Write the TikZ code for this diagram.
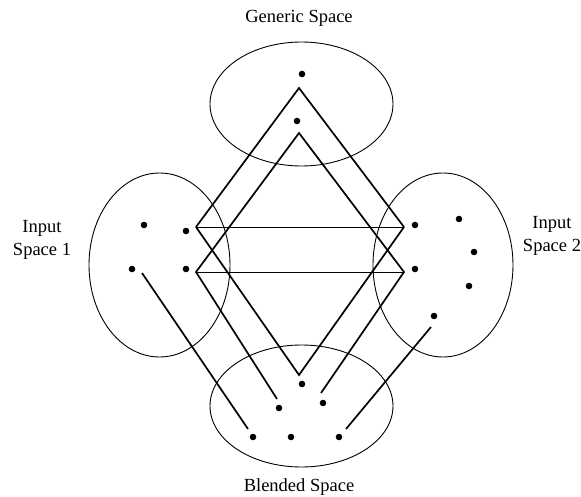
\documentclass[tikz,border=0pt]{standalone}
\usepackage{fontspec}
\setmainfont{Liberation Serif}
\begin{document}
\begin{tikzpicture}[x=1pt,y=-1pt,
  space/.style={draw,line width=0.9pt},
  dot/.style={circle,fill,inner sep=0pt,minimum size=6.6pt},
  bar/.style={line width=1.7pt},
  link/.style={line width=0.9pt},
  lbl/.style={font=\fontsize{18.5}{23}\selectfont,align=center}]
\useasboundingbox (0,0) rectangle (581,497);
% spaces
\draw[space] (301.5,104) ellipse [x radius=91.5, y radius=62];
\draw[space] (159.5,265) ellipse [x radius=70.5, y radius=92];
\draw[space] (443,265) ellipse [x radius=70, y radius=92];
\draw[space] (301.5,406) ellipse [x radius=91.5, y radius=61];
% labels
\node[lbl] (gen) at (299,18) {Generic Space};
\node[lbl] (in1) at (42,240) {Input\\Space 1};
\node[lbl] (in2) at (552,236) {Input\\Space 2};
\node[lbl] (bl) at (299,487) {Blended Space};
% dots
\node[dot] (g1) at (302,74) {};
\node[dot] (g2) at (297,121) {};
\node[dot] (a1) at (144,225) {};
\node[dot] (a2) at (186,231) {};
\node[dot] (a3) at (132,269) {};
\node[dot] (a4) at (186,269) {};
\node[dot] (b1) at (415,225) {};
\node[dot] (b2) at (459,219) {};
\node[dot] (b3) at (474,252) {};
\node[dot] (b4) at (469,286) {};
\node[dot] (b5) at (415,269) {};
\node[dot] (b6) at (434,316) {};
\node[dot] (c1) at (302,384) {};
\node[dot] (c2) at (279,408) {};
\node[dot] (c3) at (323,403) {};
\node[dot] (c4) at (253,437) {};
\node[dot] (c5) at (291,437) {};
\node[dot] (c6) at (339,437) {};
% vertices
\coordinate (T1) at (299,88);
\coordinate (L1) at (196,227);
\coordinate (R1) at (404,227);
\coordinate (B1) at (299,375);
\coordinate (T2) at (299,133);
\coordinate (L2) at (196,272);
\coordinate (R2) at (404,272);
\coordinate (E2l) at (277,399);
\coordinate (E2r) at (321,393);
\coordinate (s1) at (142,273);
\coordinate (e1) at (248,429);
\coordinate (s2) at (431,327);
\coordinate (e2) at (346,429);
% connectors
\draw[bar] (L1) -- (T1) -- (R1);
\draw[bar] (L1) -- (B1) -- (R1);
\draw[bar] (E2l) -- (L2) -- (T2) -- (R2) -- (E2r);
\draw[link] (L1) -- (R1);
\draw[link] (L2) -- (R2);
\draw[bar] (s1) -- (e1);
\draw[bar] (s2) -- (e2);
\end{tikzpicture}
\end{document}
